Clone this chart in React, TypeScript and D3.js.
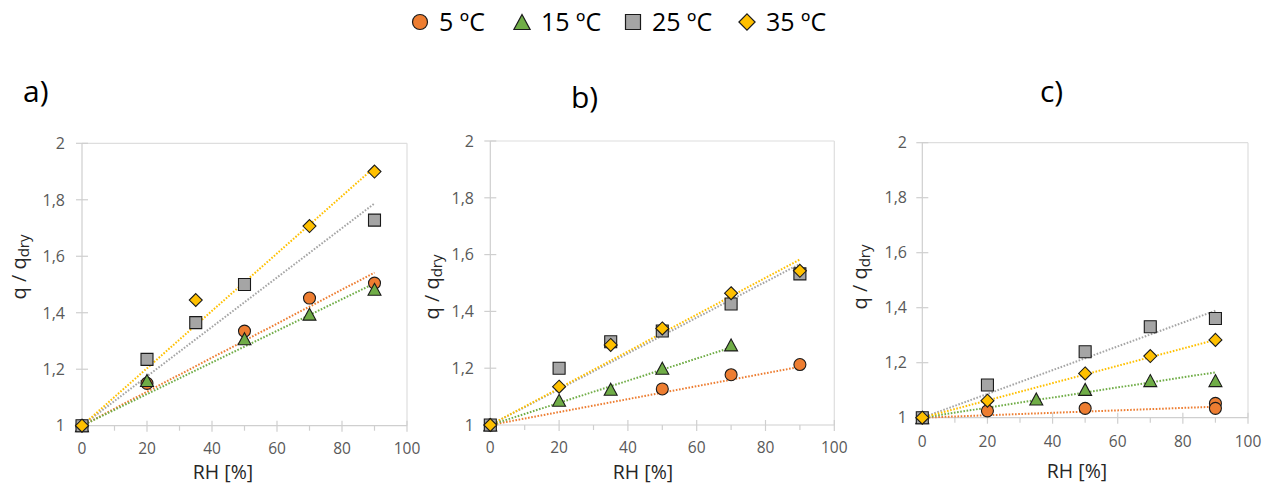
import React from 'react';
import * as d3 from 'd3';

type Pt = [number, number];

// Series definitions (temperature)
const seriesNames = ['5 ºC', '15 ºC', '25 ºC', '35 ºC'];
const seriesColors = ['#ED7D31', '#70AD47', '#A5A5A5', '#FFC000'];
const seriesShapes = ['circle', 'triangle', 'square', 'diamond'];

// Axis ticks
const xTicks = [0, 20, 40, 60, 80, 100];
const xMinorTicks = [10, 30, 50, 70, 90];
const yTicks = [1, 1.2, 1.4, 1.6, 1.8, 2];
const yTickLabels = ['1', '1,2', '1,4', '1,6', '1,8', '2'];

// Panel a) — [RH %, q/qdry]
const a5: Pt[] = [[0, 1], [20, 1.15], [50, 1.335], [70, 1.452], [90, 1.505]];
const a15: Pt[] = [[0, 1], [20, 1.16], [50, 1.308], [70, 1.395], [90, 1.483]];
const a25: Pt[] = [[0, 1], [20, 1.235], [35, 1.365], [50, 1.5], [90, 1.728]];
const a35: Pt[] = [[0, 1], [35, 1.445], [70, 1.707], [90, 1.9]];
// linear trend value at the last RH of each series (trend starts at RH 0, q/qdry 1)
const aTrend = [1.542, 1.504, 1.787, 1.915];

// Panel b)
const b5: Pt[] = [[0, 1], [50, 1.127], [70, 1.177], [90, 1.213]];
const b15: Pt[] = [[0, 1], [20, 1.087], [35, 1.126], [50, 1.2], [70, 1.282]];
const b25: Pt[] = [[0, 1], [20, 1.2], [35, 1.293], [50, 1.331], [70, 1.426], [90, 1.532]];
const b35: Pt[] = [[0, 1], [20, 1.135], [35, 1.282], [50, 1.34], [70, 1.464], [90, 1.543]];
const bTrend = [1.205, 1.273, 1.567, 1.583];

// Panel c)
const c5: Pt[] = [[0, 1], [20, 1.025], [50, 1.034], [90, 1.052], [90, 1.034]];
const c15: Pt[] = [[0, 1], [35, 1.068], [50, 1.103], [70, 1.135], [90, 1.135]];
const c25: Pt[] = [[0, 1], [20, 1.119], [50, 1.24], [70, 1.331], [90, 1.361]];
const c35: Pt[] = [[0, 1], [20, 1.062], [50, 1.161], [70, 1.224], [90, 1.283]];
const cTrend = [1.04, 1.165, 1.389, 1.283];

const FONT = "'Open Sans', 'Noto Sans', sans-serif";

interface PanelLayout {
  title: string;
  series: Pt[][];
  trend: number[];
  x0: number; x1: number; yBottom: number; yTop: number;
  titleX: number; titleY: number;
  yLabelRight: number;
  xTickBase: number;
  xTitleX: number; xTitleY: number;
  yTitleX: number; yTitleY: number;
}

function markerPath(shape: string, cx: number, cy: number, s: number): string {
  const h = s / 2;
  if (shape === 'circle') {
    const p = d3.path();
    p.arc(cx, cy, h, 0, Math.PI * 2);
    p.closePath();
    return p.toString();
  }
  if (shape === 'square') {
    return `M${cx - h},${cy - h}H${cx + h}V${cy + h}H${cx - h}Z`;
  }
  if (shape === 'diamond') {
    const d = h * 1.08;
    return `M${cx},${cy - d}L${cx + d},${cy}L${cx},${cy + d}L${cx - d},${cy}Z`;
  }
  // triangle
  const w = s * 1.08;
  return `M${cx},${cy - h}L${cx + w / 2},${cy + h}L${cx - w / 2},${cy + h}Z`;
}

function Panel({ p }: { p: PanelLayout }) {
  const x = d3.scaleLinear().domain([0, 100]).range([p.x0, p.x1]);
  const y = d3.scaleLinear().domain([1, 2]).range([p.yBottom, p.yTop]);
  const line = d3.line<Pt>().x(d => x(d[0])).y(d => y(d[1]));
  const axisColor = '#cfcfcf';
  const frameColor = '#dedede';
  const tickColor = '#595959';
  return (
    <g>
      <text x={p.titleX} y={p.titleY} fontFamily={FONT} fontSize={30} fill="#000">{p.title}</text>
      {/* plot frame */}
      <line x1={x(0)} x2={x(100)} y1={y(2)} y2={y(2)} stroke={frameColor} strokeWidth={1.2} />
      <line x1={x(100)} x2={x(100)} y1={y(2)} y2={y(1)} stroke={frameColor} strokeWidth={1.2} />
      {/* axes */}
      <line x1={x(0)} x2={x(0)} y1={y(2)} y2={y(1)} stroke={axisColor} strokeWidth={1.2} />
      <line x1={x(0)} x2={x(100)} y1={y(1)} y2={y(1)} stroke={axisColor} strokeWidth={1.2} />
      {yTicks.map((t, i) => (
        <g key={'yt' + t}>
          <line x1={x(0) - 6} x2={x(0) + 6} y1={y(t)} y2={y(t)} stroke={axisColor} strokeWidth={1.2} />
          <text x={p.yLabelRight} y={y(t)} dy="0.36em" textAnchor="end" fontFamily={FONT} fontSize={16} fill={tickColor}>{yTickLabels[i]}</text>
        </g>
      ))}
      {xTicks.map(t => (
        <g key={'xt' + t}>
          <line x1={x(t)} x2={x(t)} y1={y(1) - 5} y2={y(1) + 6} stroke={axisColor} strokeWidth={1.2} />
          <text x={x(t)} y={p.xTickBase} textAnchor="middle" fontFamily={FONT} fontSize={15.5} fill={tickColor}>{t}</text>
        </g>
      ))}
      {xMinorTicks.map(t => (
        <line key={'xm' + t} x1={x(t)} x2={x(t)} y1={y(1)} y2={y(1) + 5} stroke={axisColor} strokeWidth={1.2} />
      ))}
      <text x={p.xTitleX} y={p.xTitleY} textAnchor="middle" fontFamily={FONT} fontSize={19.5} fill="#262626">RH [%]</text>
      <text transform={`translate(${p.yTitleX},${p.yTitleY}) rotate(-90)`} textAnchor="middle" fontFamily={FONT} fontSize={20} fill="#262626">
        q / q<tspan fontSize={15} dy={3}>dry</tspan>
      </text>
      {/* trend lines */}
      {p.series.map((s, i) => {
        const xmax = d3.max(s, d => d[0]) as number;
        const pts: Pt[] = [[0, 1], [xmax, p.trend[i]]];
        return <path key={'tr' + i} d={line(pts) as string} stroke={seriesColors[i]} strokeWidth={2} strokeDasharray="1.6 1.6" fill="none" />;
      })}
      {/* markers */}
      {p.series.map((s, i) => (
        <g key={'s' + i}>
          {s.map((d, j) => (
            <path key={j} d={markerPath(seriesShapes[i], x(d[0]), y(d[1]), 12)} fill={seriesColors[i]} stroke="#1a1a1a" strokeWidth={1.1} />
          ))}
        </g>
      ))}
    </g>
  );
}

const panels: PanelLayout[] = [
  { title: 'a)', series: [a5, a15, a25, a35], trend: aTrend,
    x0: 82, x1: 407, yBottom: 425.7, yTop: 143.3,
    titleX: 23, titleY: 102, yLabelRight: 65, xTickBase: 454,
    xTitleX: 223, xTitleY: 478.5, yTitleX: 26, yTitleY: 267 },
  { title: 'b)', series: [b5, b15, b25, b35], trend: bTrend,
    x0: 490.3, x1: 834.3, yBottom: 425, yTop: 141,
    titleX: 571, titleY: 108, yLabelRight: 474, xTickBase: 453,
    xTitleX: 643, xTitleY: 478.5, yTitleX: 439, yTitleY: 287 },
  { title: 'c)', series: [c5, c15, c25, c35], trend: cTrend,
    x0: 922.3, x1: 1248, yBottom: 417.7, yTop: 142.7,
    titleX: 1040, titleY: 102, yLabelRight: 907, xTickBase: 447,
    xTitleX: 1077, xTitleY: 478, yTitleX: 867, yTitleY: 277 },
];

const legendX = [420, 522, 633, 747];

export default function App() {
  return (
    <svg width={1263} height={483} style={{ position: 'absolute', left: 0, top: 0, display: 'block', background: '#fff' }}>
      <rect width={1263} height={483} fill="#fff" />
      {seriesNames.map((n, i) => (
        <g key={n}>
          <path d={markerPath(seriesShapes[i], legendX[i], 22, 15)} fill={seriesColors[i]} stroke="#1a1a1a" strokeWidth={1.2} />
          <text x={legendX[i] + 19} y={31} fontFamily={FONT} fontSize={25} fill="#000">{n}</text>
        </g>
      ))}
      {panels.map(p => <Panel key={p.title} p={p} />)}
    </svg>
  );
}
